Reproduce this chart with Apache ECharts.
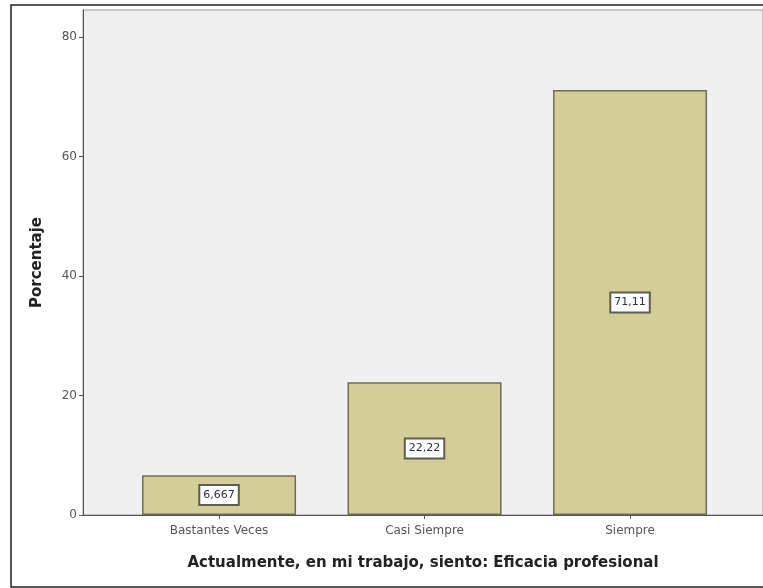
<!DOCTYPE html>
<html>
<head>
<meta charset="utf-8">
<script src="https://cdn.jsdelivr.net/npm/echarts@6/dist/echarts.min.js"></script>
<style>
  html, body { margin: 0; padding: 0; background: #fff; }
  #main { width: 763px; height: 588px; }
</style>
</head>
<body>
<div id="main"></div>
<script>
// categorias y porcentajes
var categories = ['Bastantes Veces', 'Casi Siempre', 'Siempre'];
var percentages = [6.667, 22.22, 71.11];
var yTicks = [0, 20, 40, 60, 80];
var xTicks = [0, 1, 2];

var myChart = echarts.init(document.getElementById('main'));

var barData = [];
for (var i = 0; i < categories.length; i++) {
    barData.push([i, percentages[i]]);
}

myChart.setOption({
    backgroundColor: '#fff',
    animation: false,
    textStyle: { fontFamily: 'DejaVu Sans' },
    graphic: [
        {
            // marco exterior
            type: 'rect',
            shape: { x: 11, y: 5, width: 800, height: 582 },
            style: { fill: 'none', stroke: '#222', lineWidth: 1.5 },
            z: 100
        }
    ],
    grid: {
        left: 83,
        right: 0,
        top: 10,
        bottom: 73,
        show: true,
        backgroundColor: '#f0f0f0',
        borderColor: '#9a9a9a',
        borderWidth: 1
    },
    xAxis: {
        type: 'value',
        min: -0.662,
        max: 2.647,
        name: 'Actualmente, en mi trabajo, siento: Eficacia profesional',
        nameLocation: 'middle',
        nameGap: 41,
        nameTextStyle: { fontWeight: 'bold', fontSize: 15, color: '#222' },
        splitLine: { show: false },
        axisLine: { onZero: false, lineStyle: { color: '#555', width: 1 } },
        axisTick: { customValues: xTicks, length: 4, lineStyle: { color: '#555' } },
        axisLabel: {
            customValues: xTicks,
            fontSize: 12,
            color: '#555',
            margin: 10,
            formatter: function (v) { return categories[v]; }
        }
    },
    yAxis: {
        type: 'value',
        min: 0,
        max: 84.5,
        name: 'Porcentaje',
        nameLocation: 'middle',
        nameGap: 38,
        nameTextStyle: { fontWeight: 'bold', fontSize: 15, color: '#222' },
        splitLine: { show: false },
        axisLine: { show: true, onZero: false, lineStyle: { color: '#555', width: 1 } },
        axisTick: { show: true, customValues: yTicks, length: 4, lineStyle: { color: '#555' } },
        axisLabel: {
            customValues: yTicks,
            fontSize: 12,
            color: '#555',
            margin: 6
        }
    },
    series: [
        {
            type: 'bar',
            data: barData,
            barWidth: 154,
            itemStyle: {
                color: '#d3ce97',
                borderColor: '#6e6d5c',
                borderWidth: 1.5
            },
            label: {
                show: true,
                position: 'inside',
                fontSize: 11,
                color: '#2a2f4a',
                backgroundColor: '#fff',
                borderColor: '#5d5d50',
                borderWidth: 2,
                padding: [4, 3, 3, 3],
                formatter: function (p) {
                    return String(p.value[1]).replace('.', ',');
                }
            }
        }
    ]
});
</script>
</body>
</html>
